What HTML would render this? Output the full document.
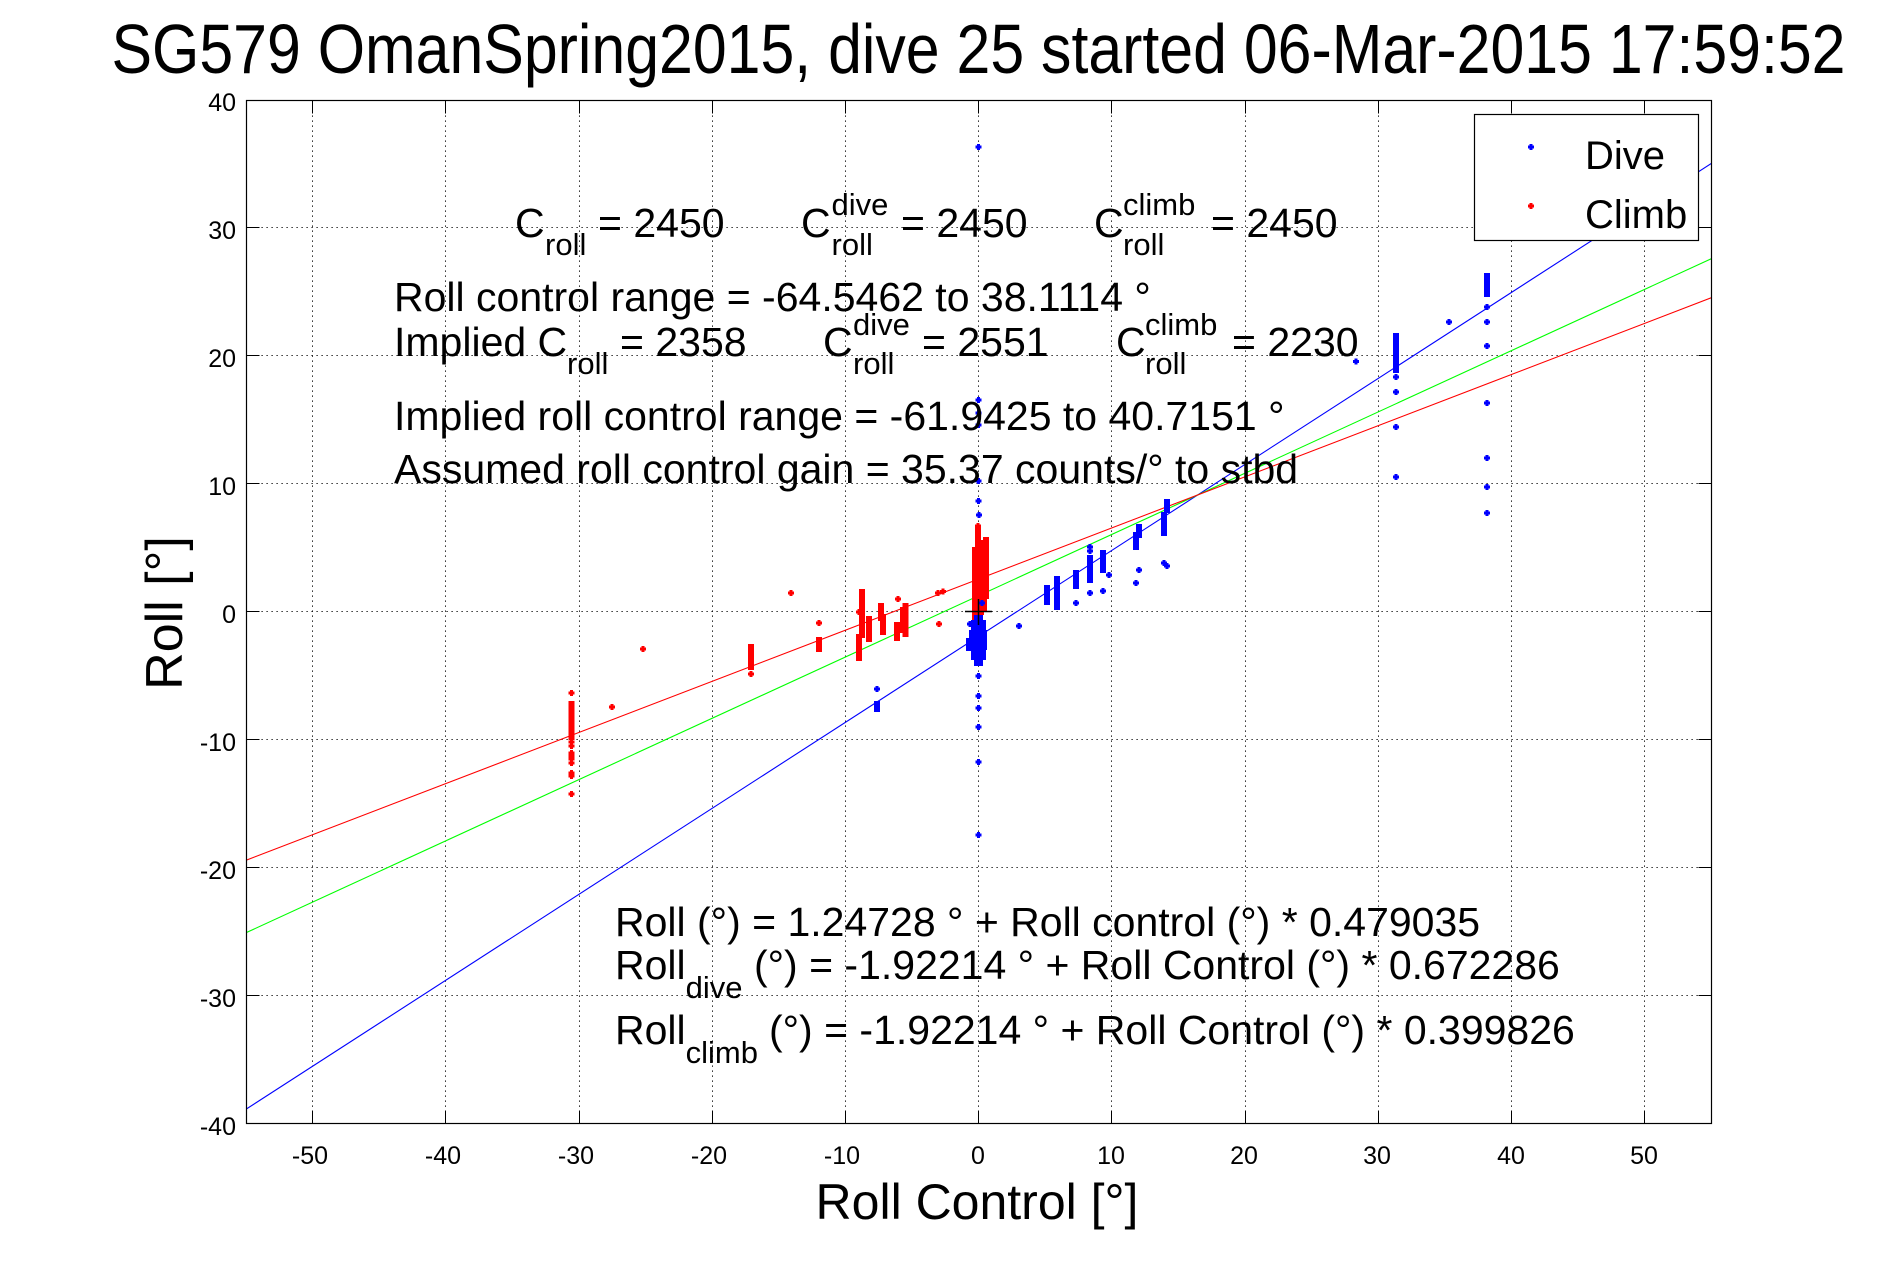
<!DOCTYPE html>
<html>
<head>
<meta charset="utf-8">
<style>
html,body{margin:0;padding:0;background:#fff;}
svg{display:block;}
text{font-family:"Liberation Sans",Arial,Helvetica,sans-serif;fill:#000;}
</style>
</head>
<body>
<svg width="1891" height="1262" viewBox="0 0 1891 1262" xmlns="http://www.w3.org/2000/svg">
<defs>
<path id="m" d="M-1.5,-3h3v1.5h1.5v3h-1.5v1.5h-3v-1.5h-1.5v-3h1.5z"/>
<clipPath id="ax"><rect x="246.5" y="100.5" width="1465" height="1023"/></clipPath>
</defs>
<rect width="1891" height="1262" fill="#fff"/>

<!-- Title -->
<text x="978.5" y="73" font-size="70" text-anchor="middle" textLength="1734" lengthAdjust="spacingAndGlyphs">SG579 OmanSpring2015, dive 25 started 06-Mar-2015 17:59:52</text>

<!-- Grid -->
<g stroke="#000" stroke-width="1" stroke-dasharray="1.2 3.8" fill="none">
<line x1="312.5" y1="100.5" x2="312.5" y2="1123.5"/>
<line x1="445.5" y1="100.5" x2="445.5" y2="1123.5"/>
<line x1="579.5" y1="100.5" x2="579.5" y2="1123.5"/>
<line x1="712.5" y1="100.5" x2="712.5" y2="1123.5"/>
<line x1="845.5" y1="100.5" x2="845.5" y2="1123.5"/>
<line x1="978.5" y1="100.5" x2="978.5" y2="1123.5"/>
<line x1="1111.5" y1="100.5" x2="1111.5" y2="1123.5"/>
<line x1="1245.5" y1="100.5" x2="1245.5" y2="1123.5"/>
<line x1="1378.5" y1="100.5" x2="1378.5" y2="1123.5"/>
<line x1="1511.5" y1="100.5" x2="1511.5" y2="1123.5"/>
<line x1="1644.5" y1="100.5" x2="1644.5" y2="1123.5"/>
<line x1="246.5" y1="227.5" x2="1711.5" y2="227.5"/>
<line x1="246.5" y1="355.5" x2="1711.5" y2="355.5"/>
<line x1="246.5" y1="483.5" x2="1711.5" y2="483.5"/>
<line x1="246.5" y1="611.5" x2="1711.5" y2="611.5"/>
<line x1="246.5" y1="739.5" x2="1711.5" y2="739.5"/>
<line x1="246.5" y1="867.5" x2="1711.5" y2="867.5"/>
<line x1="246.5" y1="995.5" x2="1711.5" y2="995.5"/>
</g>

<!-- Ticks -->
<g stroke="#000" stroke-width="1" fill="none">
<path d="M312.5,1123.5v-13M445.5,1123.5v-13M579.5,1123.5v-13M712.5,1123.5v-13M845.5,1123.5v-13M978.5,1123.5v-13M1111.5,1123.5v-13M1245.5,1123.5v-13M1378.5,1123.5v-13M1511.5,1123.5v-13M1644.5,1123.5v-13"/>
<path d="M312.5,100.5v13M445.5,100.5v13M579.5,100.5v13M712.5,100.5v13M845.5,100.5v13M978.5,100.5v13M1111.5,100.5v13M1245.5,100.5v13M1378.5,100.5v13M1511.5,100.5v13M1644.5,100.5v13"/>
<path d="M246.5,100.5h13M246.5,227.5h13M246.5,355.5h13M246.5,483.5h13M246.5,611.5h13M246.5,739.5h13M246.5,867.5h13M246.5,995.5h13M246.5,1123.5h13"/>
<path d="M1711.5,100.5h-13M1711.5,227.5h-13M1711.5,355.5h-13M1711.5,483.5h-13M1711.5,611.5h-13M1711.5,739.5h-13M1711.5,867.5h-13M1711.5,995.5h-13M1711.5,1123.5h-13"/>
</g>

<!-- Fit lines -->
<g clip-path="url(#ax)" fill="none" stroke-width="1.1">
<line x1="246.5" y1="1108.9" x2="1711.5" y2="163.3" stroke="#0000ff"/>
<line x1="246.5" y1="932.5" x2="1711.5" y2="258.6" stroke="#00ff00"/>
<line x1="246.5" y1="860.1" x2="1711.5" y2="297.7" stroke="#ff0000"/>
</g>

<!-- Climb points (red) -->
<g fill="#ff0000">
<use href="#m" x="571.5" y="693"/>
<rect x="568.5" y="701" width="6" height="39"/>
<use href="#m" x="571.5" y="742"/><use href="#m" x="571.5" y="746"/><use href="#m" x="571.5" y="753"/><use href="#m" x="571.5" y="756"/><use href="#m" x="571.5" y="759"/><use href="#m" x="571.5" y="763"/><use href="#m" x="571.5" y="773"/><use href="#m" x="571.5" y="776"/><use href="#m" x="571.5" y="794"/>
<use href="#m" x="612" y="707"/>
<use href="#m" x="643" y="649"/>
<rect x="748" y="644" width="6" height="26"/><use href="#m" x="751" y="674"/>
<use href="#m" x="791" y="593"/>
<use href="#m" x="819" y="623"/>
<rect x="816" y="637" width="6" height="15"/>
<rect x="856" y="634" width="6" height="27"/><use href="#m" x="859" y="612"/>
<rect x="859" y="589" width="6" height="49"/>
<rect x="866" y="616" width="6" height="26"/>
<rect x="878" y="603" width="6" height="18"/>
<rect x="880" y="614" width="6" height="21"/>
<use href="#m" x="898" y="599"/>
<rect x="894" y="622" width="6" height="19"/>
<rect x="902.5" y="603" width="6" height="34"/>
<rect x="900" y="607" width="6" height="26"/>
<use href="#m" x="938" y="593"/><use href="#m" x="943" y="591.5"/>
<use href="#m" x="939" y="624"/>
<rect x="972" y="547" width="6" height="75"/>
<rect x="975" y="527" width="6" height="100"/>
<rect x="978" y="540" width="6" height="75"/>
<rect x="981" y="550" width="6" height="62"/>
<rect x="983" y="537" width="6" height="62"/>
<use href="#m" x="978" y="526"/><use href="#m" x="978" y="537"/>
</g>

<!-- Dive points (blue) -->
<g fill="#0000ff">
<use href="#m" x="978.5" y="147"/>
<use href="#m" x="978.5" y="400"/><use href="#m" x="978.5" y="413"/><use href="#m" x="978.5" y="425"/>
<use href="#m" x="978.5" y="481"/><use href="#m" x="978.5" y="501"/><use href="#m" x="979" y="515"/>
<use href="#m" x="978.5" y="676"/><use href="#m" x="978.5" y="696"/><use href="#m" x="978.5" y="708"/>
<use href="#m" x="978.5" y="727"/><use href="#m" x="978.5" y="762"/><use href="#m" x="978.5" y="835"/>
<rect x="969" y="630" width="18" height="20"/>
<rect x="971" y="620" width="15" height="40"/>
<rect x="974" y="615" width="9" height="51"/>
<rect x="966" y="638" width="6" height="13"/>
<use href="#m" x="970" y="624"/><use href="#m" x="982" y="603"/>
<use href="#m" x="877" y="689"/>
<rect x="874" y="701" width="6" height="11"/>
<use href="#m" x="1019" y="626"/>
<rect x="1044" y="585" width="6" height="20"/>
<rect x="1054" y="576" width="6" height="34"/>
<rect x="1073" y="570" width="6" height="19"/><use href="#m" x="1076" y="603"/>
<use href="#m" x="1090" y="547"/><use href="#m" x="1090" y="551"/>
<rect x="1087" y="555" width="6" height="28"/><use href="#m" x="1090" y="593"/>
<rect x="1100" y="550" width="6" height="23"/><use href="#m" x="1103" y="591"/>
<use href="#m" x="1109" y="575"/>
<rect x="1133" y="532" width="6" height="18"/><use href="#m" x="1136" y="583"/>
<rect x="1136" y="524" width="6" height="14"/><use href="#m" x="1139" y="570"/>
<rect x="1161" y="512" width="6" height="24"/><use href="#m" x="1164" y="563"/><use href="#m" x="1167" y="566"/>
<rect x="1164" y="499" width="6" height="14"/>
<use href="#m" x="1356" y="361.5"/>
<rect x="1393" y="333" width="6" height="40"/>
<use href="#m" x="1396" y="377"/><use href="#m" x="1396" y="392"/><use href="#m" x="1396" y="427"/><use href="#m" x="1396" y="477"/>
<use href="#m" x="1449" y="322"/>
<rect x="1484" y="273" width="6" height="24"/>
<use href="#m" x="1487" y="307"/><use href="#m" x="1487" y="322"/><use href="#m" x="1487" y="346"/><use href="#m" x="1487" y="403"/><use href="#m" x="1487" y="458"/><use href="#m" x="1487" y="487"/><use href="#m" x="1487" y="513"/>
</g>

<!-- black cross at origin -->
<g stroke="#000" stroke-width="1.5">
<line x1="965" y1="611.5" x2="992" y2="611.5"/>
<line x1="978.5" y1="599" x2="978.5" y2="625"/>
</g>

<!-- Axes box -->
<rect x="246.5" y="100.5" width="1465" height="1023" fill="none" stroke="#000" stroke-width="1.2"/>

<!-- Y tick labels -->
<g font-size="25" text-anchor="end">
<text x="236" y="111">40</text>
<text x="236" y="239">30</text>
<text x="236" y="367">20</text>
<text x="236" y="495">10</text>
<text x="236" y="623">0</text>
<text x="236" y="751">-10</text>
<text x="236" y="879">-20</text>
<text x="236" y="1007">-30</text>
<text x="236" y="1135">-40</text>
</g>
<!-- X tick labels -->
<g font-size="25" text-anchor="middle">
<text x="310" y="1164">-50</text>
<text x="443" y="1164">-40</text>
<text x="576" y="1164">-30</text>
<text x="709" y="1164">-20</text>
<text x="842" y="1164">-10</text>
<text x="978" y="1164">0</text>
<text x="1111" y="1164">10</text>
<text x="1244" y="1164">20</text>
<text x="1377" y="1164">30</text>
<text x="1511" y="1164">40</text>
<text x="1644" y="1164">50</text>
</g>

<!-- Axis labels -->
<text x="977" y="1219" font-size="50" text-anchor="middle">Roll Control [°]</text>
<text transform="translate(182,613) rotate(-90)" font-size="52" text-anchor="middle">Roll [°]</text>

<!-- Annotations line 1 -->
<g font-size="41">
<text x="515" y="237">C</text>
<text x="598" y="237">= 2450</text>
<text x="801" y="237">C</text>
<text x="901" y="237">= 2450</text>
<text x="1094" y="237">C</text>
<text x="1211" y="237">= 2450</text>
</g>
<g font-size="31">
<text x="545" y="255">roll</text>
<text x="831.5" y="215">dive</text>
<text x="831.5" y="255">roll</text>
<text x="1123" y="215">climb</text>
<text x="1123" y="255">roll</text>
</g>

<!-- line 2 -->
<text x="394" y="311" font-size="41" xml:space="preserve">Roll control range = -64.5462 to 38.1114 °</text>

<!-- line 3 -->
<g font-size="41">
<text x="394" y="356">Implied C</text>
<text x="620" y="356">= 2358</text>
<text x="823" y="356">C</text>
<text x="922" y="356">= 2551</text>
<text x="1116" y="356">C</text>
<text x="1232" y="356">= 2230</text>
</g>
<g font-size="31">
<text x="567" y="374">roll</text>
<text x="853" y="335">dive</text>
<text x="853" y="374">roll</text>
<text x="1145" y="335">climb</text>
<text x="1145" y="374">roll</text>
</g>

<!-- line 4, 5 -->
<text x="394" y="430" font-size="41" xml:space="preserve">Implied roll control range = -61.9425 to 40.7151 °</text>
<text x="394" y="483" font-size="41" xml:space="preserve">Assumed roll control gain = 35.37 counts/° to stbd</text>

<!-- Equations -->
<text x="615" y="936" font-size="41" xml:space="preserve">Roll (°) = 1.24728 ° + Roll control (°) * 0.479035</text>
<text x="615" y="979" font-size="41">Roll</text>
<text x="685.6" y="998" font-size="31">dive</text>
<text x="754" y="979" font-size="41" xml:space="preserve">(°) = -1.92214 ° + Roll Control (°) * 0.672286</text>
<text x="615" y="1044" font-size="41">Roll</text>
<text x="685.6" y="1063" font-size="31">climb</text>
<text x="769" y="1044" font-size="41" xml:space="preserve">(°) = -1.92214 ° + Roll Control (°) * 0.399826</text>

<!-- Legend -->
<rect x="1474.5" y="114.5" width="224" height="126" fill="#fff" stroke="#000" stroke-width="1.2"/>
<use href="#m" x="1531" y="147" fill="#0000ff"/>
<use href="#m" x="1531" y="206" fill="#ff0000"/>
<text x="1585" y="169" font-size="40">Dive</text>
<text x="1585" y="228" font-size="40">Climb</text>
</svg>
</body>
</html>
